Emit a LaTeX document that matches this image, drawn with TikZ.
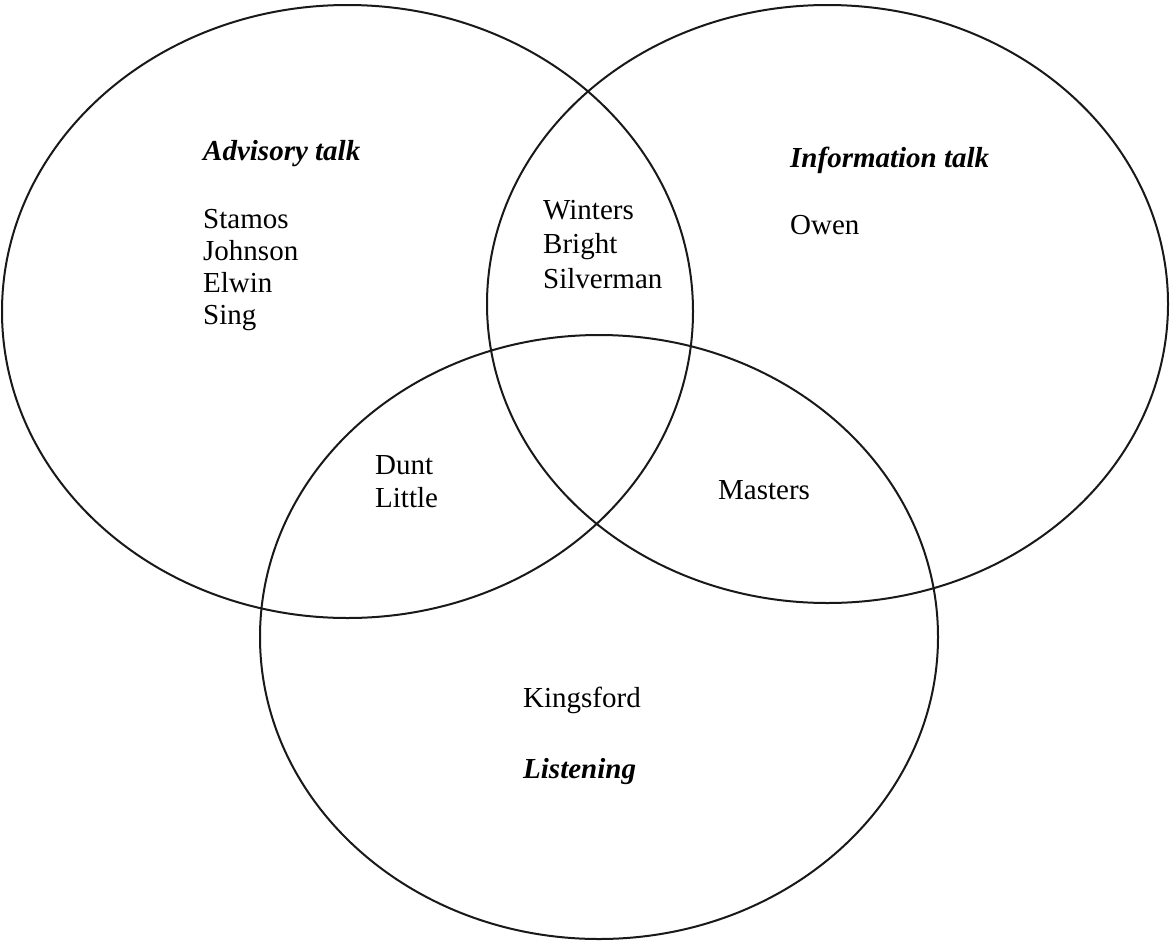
\documentclass[tikz,border=0pt]{standalone}
\usepackage{fontspec}
\setmainfont{Liberation Serif}
\begin{document}
\begin{tikzpicture}[x=1pt,y=-1pt,
  ring/.style={draw=black!90,line width=2pt},
  lbl/.style={anchor=base west,inner sep=0pt,font=\fontsize{29}{32}\selectfont},
  ttl/.style={lbl,font=\fontsize{29}{32}\selectfont\bfseries\itshape}]
\useasboundingbox[fill=white] (0,0) rectangle (1170,940);
\draw[ring] (347.5,311.5) ellipse [x radius=345.5,y radius=306.5];
\draw[ring] (827.5,304) ellipse [x radius=340.5,y radius=299];
\draw[ring] (599,637) ellipse [x radius=339,y radius=302];
\node[ttl] (adv) at (203,160) {Advisory talk};
\node[lbl] (s1) at (203,228) {Stamos};
\node[lbl] (s2) at (203,260) {Johnson};
\node[lbl] (s3) at (203,292) {Elwin};
\node[lbl] (s4) at (203,324) {Sing};
\node[lbl] (w1) at (543,219) {Winters};
\node[lbl] (w2) at (543,253) {Bright};
\node[lbl] (w3) at (543,288) {Silverman};
\node[ttl] (inf) at (790,167) {Information talk};
\node[lbl] (ow) at (790,234) {Owen};
\node[lbl] (d1) at (375,474) {Dunt};
\node[lbl] (d2) at (375,507) {Little};
\node[lbl] (ma) at (718,499) {Masters};
\node[lbl] (ki) at (523,707) {Kingsford};
\node[ttl] (li) at (523,778) {Listening};
\end{tikzpicture}
\end{document}
